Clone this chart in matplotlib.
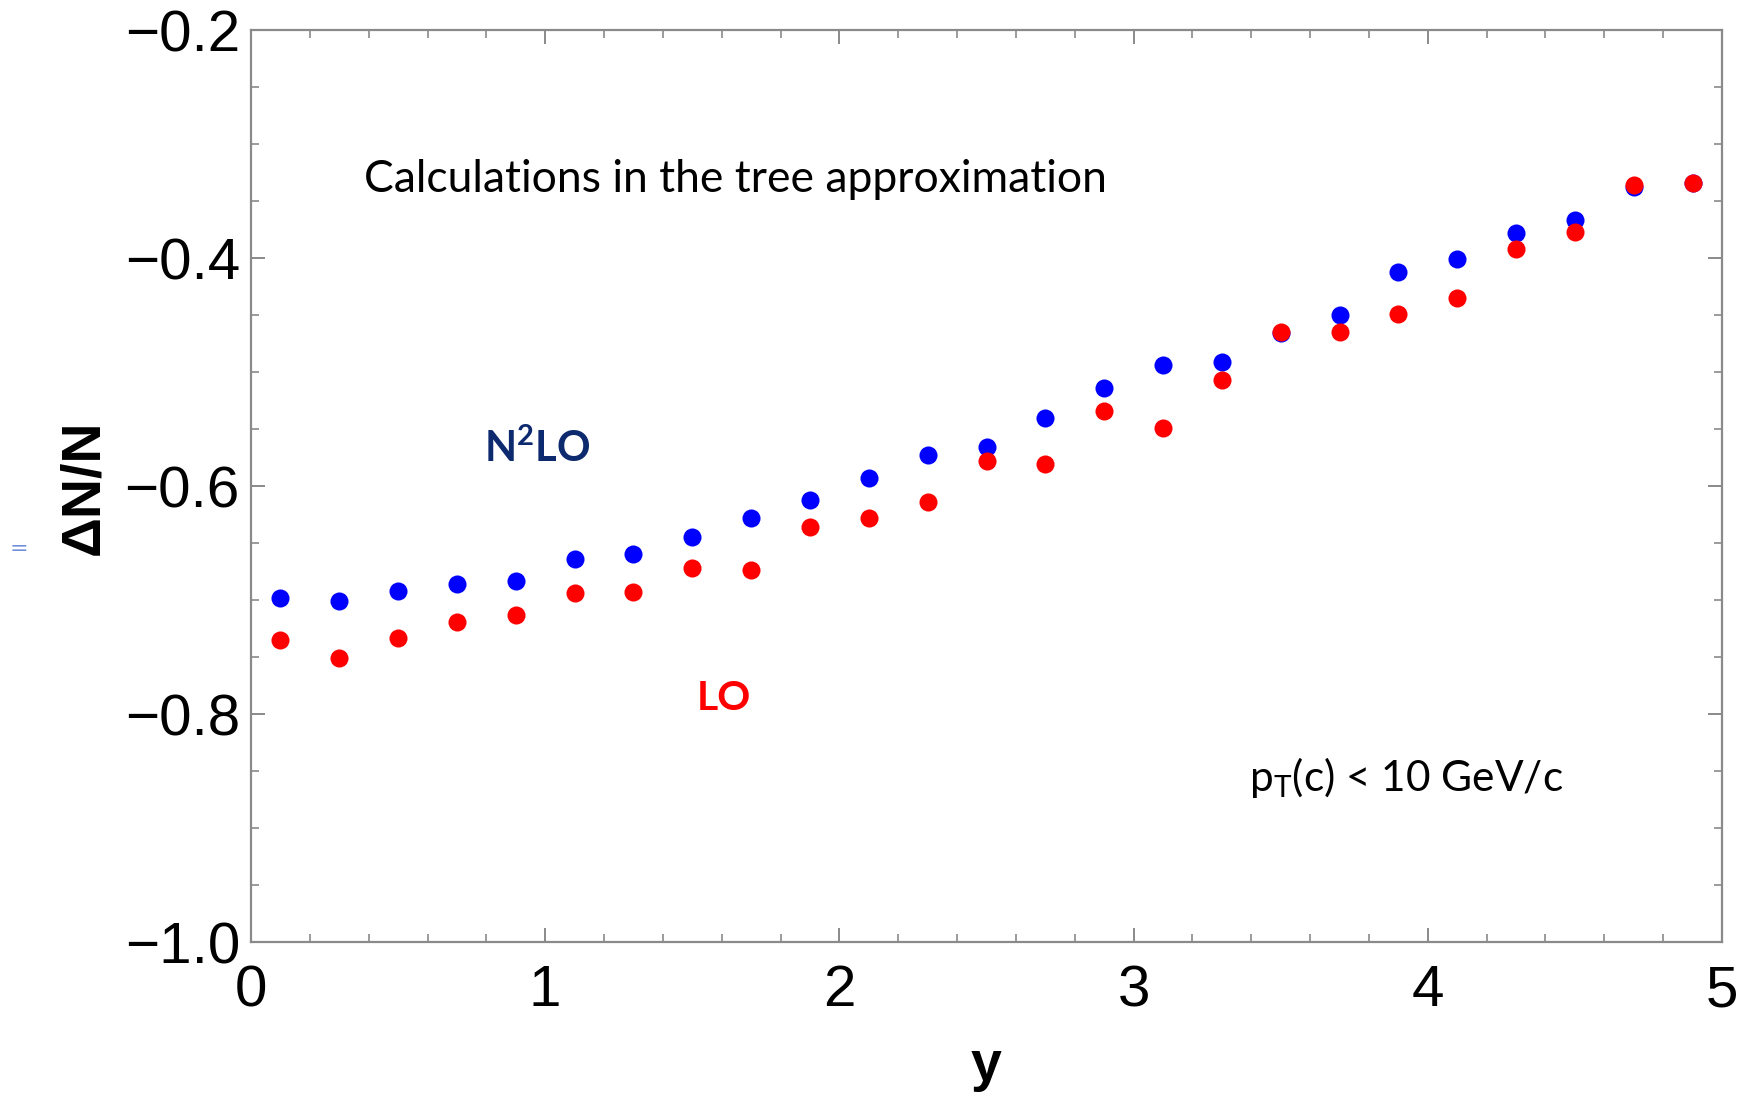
import matplotlib
matplotlib.use("Agg")
import matplotlib.pyplot as plt
from matplotlib.ticker import MultipleLocator, FixedLocator

plt.rcParams['mathtext.fontset'] = 'custom'
plt.rcParams['mathtext.rm'] = 'Lato'
plt.rcParams['mathtext.it'] = 'Lato:italic'
plt.rcParams['mathtext.bf'] = 'Lato:bold'

# ---- data ----
y_rapidity = [0.1, 0.3, 0.5, 0.7, 0.9, 1.1, 1.3, 1.5, 1.7, 1.9, 2.1, 2.3, 2.5,
              2.7, 2.9, 3.1, 3.3, 3.5, 3.7, 3.9, 4.1, 4.3, 4.5, 4.7, 4.9]
n2lo = [-0.698, -0.701, -0.692, -0.686, -0.683, -0.664, -0.660, -0.645, -0.628,
        -0.612, -0.593, -0.573, -0.566, -0.540, -0.514, -0.494, -0.491, -0.466,
        -0.450, -0.412, -0.401, -0.378, -0.367, -0.338, -0.334]
lo = [-0.735, -0.751, -0.733, -0.719, -0.713, -0.694, -0.693, -0.672, -0.674,
      -0.636, -0.628, -0.614, -0.578, -0.581, -0.534, -0.549, -0.507, -0.465,
      -0.465, -0.449, -0.435, -0.392, -0.377, -0.336, -0.334]
x_ticks = [0, 1, 2, 3, 4, 5]
x_ticklabels = ["0", "1", "2", "3", "4", "5"]
y_ticks = [-1.0, -0.8, -0.6, -0.4, -0.2]
y_ticklabels = ["\u22121.0", "\u22120.8", "\u22120.6", "\u22120.4", "\u22120.2"]

W, H = 1756, 1096
fig = plt.figure(figsize=(W / 100, H / 100), dpi=100)
ax = fig.add_axes([251 / W, 1 - 942 / H, (1722 - 251) / W, (942 - 30) / H])

ax.plot(y_rapidity, n2lo, 'o', color='#0000ff', markersize=13, markeredgewidth=0, zorder=3)
ax.plot(y_rapidity, lo, 'o', color='#ff0000', markersize=13, markeredgewidth=0, zorder=4)

ax.set_xlim(0, 5)
ax.set_ylim(-1.0, -0.2)

spine_col = '#8a8a8a'
for s in ax.spines.values():
    s.set_color(spine_col)
    s.set_linewidth(1.6)

ax.xaxis.set_major_locator(FixedLocator(x_ticks))
ax.yaxis.set_major_locator(FixedLocator(y_ticks))
ax.xaxis.set_minor_locator(MultipleLocator(0.2))
ax.yaxis.set_minor_locator(MultipleLocator(0.05))
ax.tick_params(which='both', direction='in', top=True, right=True, color=spine_col)
ax.tick_params(which='major', length=10, width=1.4)
ax.tick_params(which='minor', length=6, width=1.2)
ax.tick_params(axis='y', which='major', pad=8)
ax.tick_params(axis='x', which='major', pad=16)

ax.set_xticklabels(x_ticklabels, fontsize=42, family=['Liberation Sans', 'DejaVu Sans'])
ax.set_yticklabels(y_ticklabels, fontsize=42, family=['Liberation Sans', 'DejaVu Sans'])

fig.text(84 / W, 1 - 487 / H, "\u0394N/N", rotation=90, ha='center', va='center',
         fontsize=40, fontweight='bold', family=['Liberation Sans', 'DejaVu Sans'])
fig.text(986 / W, 1 - 1066 / H, "y", ha='center', va='center',
         fontsize=40, fontweight='bold', family=['Liberation Sans', 'DejaVu Sans'])

fig.text(364 / W, 1 - 179 / H, "Calculations in the tree approximation", ha='left', va='center',
         fontsize=32, family=['Lato', 'DejaVu Sans'])
fig.text(484 / W, 1 - 448 / H, "N$^{\\mathbf{2}}$LO", ha='left', va='center',
         fontsize=30, fontweight='bold', color='#0d2a6e', family=['Lato', 'DejaVu Sans'])
fig.text(697 / W, 1 - 698 / H, "LO", ha='left', va='center',
         fontsize=29.5, fontweight='bold', color='#ff0000', family=['Lato', 'DejaVu Sans'])
fig.text(1249 / W, 1 - 778 / H, "p$_{\\mathrm{T}}$(c) < 10 GeV/c", ha='left', va='center',
         fontsize=30.5, family=['Lato', 'DejaVu Sans'])
fig.text(19 / W, 1 - 549 / H, "=", ha='center', va='center', fontsize=16, color='#6f8fd8')

fig.savefig("out.png", dpi=100)
